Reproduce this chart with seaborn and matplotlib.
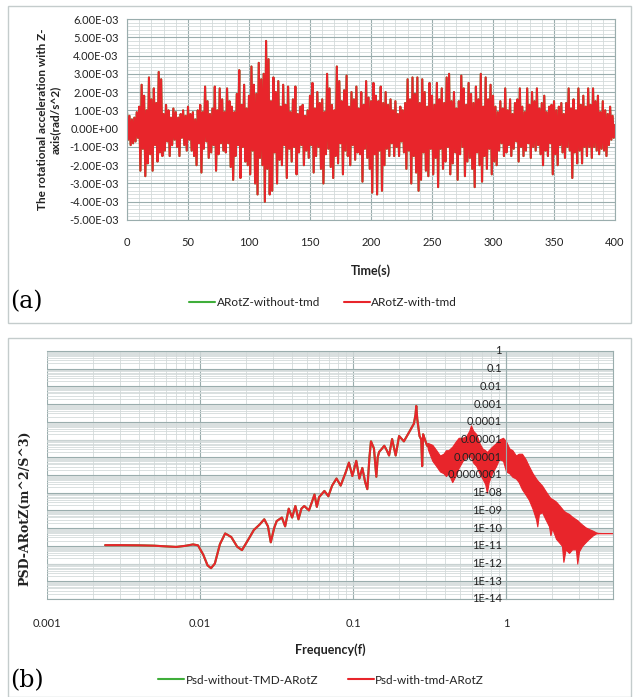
import numpy as np
import pandas as pd
import seaborn as sns
import matplotlib.pyplot as plt
from matplotlib.ticker import MultipleLocator, LogLocator, FixedLocator, FixedFormatter, NullFormatter
from matplotlib.patches import Rectangle

# ---- data -------------------------------------------------------------
# (a) rotational acceleration about Z, read every 1 s (units of 1E-03 rad/s^2)
arotz_with = [
    0.9, -0.6, 0.7, -0.9, 0.5, -0.8, 0.6, -0.7, 0.9, -0.5,
    1.2, -2.3, 2.4, -1.1, 1.8, -2.6, 1.0, -1.9, 2.8, -1.4,
    1.6, -2.3, 2.2, -0.9, 1.4, -1.8, 3.1, -1.3, 2.7, -1.5,
    0.8, -1.2, 1.3, -0.7, 1.0, -1.5, 0.6, -0.9, 1.1, -0.6,
    0.9, -1.0, 0.6, -1.5, 0.8, -0.5, 1.0, -0.9, 0.7, -1.2,
    1.2, -0.6, 0.8, -1.2, 0.9, -1.5, 0.5, -2.0, 1.0, -0.8,
    1.3, -2.4, 0.9, -1.1, 2.3, -0.7, 1.5, -1.6, 0.8, -1.3,
    1.1, -0.9, 2.3, -2.3, 1.0, -1.4, 2.2, -0.8, 1.6, -1.2,
    0.9, -1.3, 2.2, -0.8, 1.5, -2.1, 1.2, -2.8, 0.9, -1.5,
    1.9, -0.9, 3.2, -2.7, 1.3, -1.0, 2.4, -1.8, 1.1, -2.0,
    1.8, -2.5, 3.4, -1.2, 2.4, -3.0, 1.9, -3.6, 3.6, -1.6,
    2.7, -2.0, 3.0, -4.0, 4.8, -2.2, 3.8, -3.6, 1.5, -3.4,
    2.8, -1.3, 2.0, -3.0, 2.6, -1.7, 1.2, -2.0, 2.4, -0.9,
    1.3, -2.7, 2.3, -1.1, 0.9, -1.8, 1.6, -1.0, 2.3, -2.5,
    0.8, -1.3, 1.2, -0.9, 1.3, -2.0, 0.7, -1.2, 1.0, -1.6,
    1.8, -0.9, 2.5, -2.4, 1.1, -1.5, 2.0, -1.0, 1.4, -2.2,
    1.6, -3.0, 0.9, -1.4, 3.0, -1.1, 2.2, -2.1, 1.3, -2.7,
    1.0, -1.5, 3.4, -1.9, 2.6, -0.8, 1.5, -2.5, 2.1, -1.2,
    2.9, -1.5, 1.2, -2.0, 2.0, -0.9, 1.6, -1.7, 2.3, -1.3,
    1.1, -1.4, 2.0, -2.9, 1.3, -1.1, 2.6, -1.6, 1.7, -2.2,
    1.5, -3.5, 2.5, -1.4, 1.8, -3.6, 1.5, -1.2, 2.3, -3.4,
    1.4, -2.0, 2.0, -1.1, 1.3, -1.5, 1.6, -0.8, 1.0, -1.5,
    1.5, -1.0, 0.8, -1.5, 1.2, -0.7, 1.0, -1.3, 1.4, -2.2,
    2.7, -1.2, 1.6, -3.0, 2.8, -1.5, 1.9, -2.4, 2.8, -3.4,
    1.4, -2.8, 2.7, -1.3, 2.0, -2.3, 1.2, -2.6, 2.5, -1.1,
    1.8, -2.5, 1.3, -1.6, 2.5, -3.2, 1.6, -1.1, 2.2, -2.2,
    1.4, -1.8, 2.8, -1.0, 3.0, -2.5, 1.5, -1.9, 2.0, -1.3,
    1.1, -2.8, 1.5, -1.4, 2.9, -1.0, 2.2, -2.6, 1.3, -1.8,
    2.5, -1.6, 1.9, -2.2, 1.4, -3.2, 2.3, -1.3, 1.6, -2.0,
    3.0, -2.9, 1.2, -1.5, 2.8, -2.2, 1.6, -1.1, 2.4, -2.5,
    1.8, -1.8, 1.2, -2.0, 0.9, -1.2, 1.5, -0.8, 1.1, -1.5,
    2.2, -1.3, 1.0, -0.9, 1.6, -1.5, 0.8, -1.1, 1.4, -0.7,
    1.6, -1.8, 2.2, -1.0, 1.2, -1.5, 0.9, -1.2, 2.2, -0.8,
    1.3, -1.6, 2.0, -1.0, 1.5, -1.2, 2.2, -0.9, 1.1, -1.4,
    1.4, -2.0, 1.8, -1.2, 0.9, -1.5, 1.2, -0.8, 1.3, -2.5,
    1.5, -1.4, 1.0, -2.0, 1.2, -0.9, 1.4, -1.3, 0.8, -1.6,
    1.4, -1.0, 2.2, -1.2, 1.1, -2.7, 1.6, -1.3, 1.0, -1.9,
    2.2, -1.2, 1.3, -1.9, 1.8, -1.0, 1.2, -1.5, 2.2, -1.0,
    1.3, -1.6, 2.2, -1.0, 1.5, -1.2, 1.8, -1.4, 0.9, -1.1,
    1.5, -1.2, 1.0, -1.5, 0.8, -0.9, 1.2, -0.6, 0.7, -0.5,
    0.2,
]
arotz_without = list(arotz_with)  # curves coincide in the figure
time_s = np.arange(len(arotz_with))

# (b) PSD, log10 values
psd_freq = [0.0024, 0.003, 0.004, 0.005, 0.006, 0.007, 0.008, 0.009, 0.0097,
            0.0105, 0.0112, 0.0118, 0.0125, 0.0135, 0.0146, 0.016, 0.0175,
            0.0188, 0.0205, 0.0225, 0.0245, 0.0263, 0.0278, 0.029, 0.0305,
            0.0317, 0.0343, 0.036, 0.038, 0.040, 0.042, 0.044, 0.046, 0.048,
            0.0515, 0.054, 0.056, 0.058, 0.06, 0.065, 0.069, 0.073, 0.078,
            0.083, 0.09, 0.094, 0.099, 0.105, 0.11, 0.115, 0.12, 0.124,
            0.128, 0.131, 0.137, 0.142, 0.145, 0.148, 0.155, 0.16, 0.166,
            0.172, 0.18, 0.19, 0.20, 0.215, 0.232, 0.25, 0.256, 0.259,
            0.263, 0.272, 0.279, 0.283, 0.287, 0.295, 0.305]
psd_log_with = [-10.96, -10.96, -10.97, -10.99, -11.03, -11.06, -11.0, -10.92, -10.97,
                -11.5, -12.1, -12.26, -12.0, -10.9, -10.3, -10.5, -11.05,
                -11.24, -10.7, -10.1, -9.8, -9.5, -9.9, -10.8, -10.0,
                -9.6, -9.4, -9.9, -8.9, -9.4, -8.75, -9.5, -8.9, -8.75,
                -9.0, -8.5, -8.1, -8.8, -8.25, -7.9, -8.2, -7.6, -7.2,
                -7.6, -6.8, -6.3, -7.06, -6.2, -7.2, -6.6, -7.4, -7.8,
                -6.0, -5.1, -5.5, -7.1, -6.0, -5.7, -5.5, -5.35, -5.6,
                -5.9, -4.97, -5.9, -4.8, -5.1, -4.6, -4.1, -3.6, -3.1,
                -3.85, -4.8, -5.0, -6.5, -4.7, -5.0, -5.35]
psd_log_without = list(psd_log_with)

# dense, noisy part of the spectrum: upper / lower envelope (log10)
band_freq = [0.305, 0.31, 0.33, 0.35, 0.37, 0.39, 0.405, 0.42, 0.445, 0.47, 0.49,
             0.52, 0.55, 0.575, 0.59, 0.61, 0.64, 0.67, 0.70, 0.73, 0.75,
             0.77, 0.81, 0.86, 0.90, 0.956, 1.0, 1.05, 1.1, 1.16, 1.21,
             1.27, 1.34, 1.41, 1.49, 1.57, 1.6, 1.64, 1.72, 1.81, 1.91,
             1.95, 2.0, 2.12, 2.22, 2.32, 2.37, 2.45, 2.58, 2.7, 2.86,
             2.92, 3.0, 3.14, 3.3, 3.48, 3.7, 3.87, 4.0, 4.3, 5.0]
band_hi = [-5.2, -5.2, -5.3, -5.6, -5.9, -5.8, -5.6, -5.6, -5.4, -5.1, -4.9,
           -4.9, -4.8, -4.5, -4.2, -4.5, -4.7, -5.2, -5.5, -5.6, -5.7,
           -5.6, -5.4, -5.2, -5.0, -4.9, -5.1, -5.5, -5.6, -5.9, -5.8,
           -5.8, -6.1, -6.5, -6.9, -7.2, -7.3, -7.4, -7.6, -7.9, -8.2,
           -8.3, -8.35, -8.5, -8.7, -8.9, -9.0, -9.1, -9.2, -9.35, -9.5,
           -9.55, -9.65, -9.8, -9.95, -10.05, -10.15, -10.24, -10.27, -10.28, -10.28]
band_lo = [-5.35, -5.6, -6.2, -6.5, -6.8, -6.9, -7.06, -6.9, -7.4, -7.0, -6.6,
           -6.2, -6.0, -5.9, -6.0, -6.3, -6.5, -6.9, -7.2, -7.5, -8.0,
           -7.4, -6.9, -6.5, -6.1, -6.2, -6.8, -6.9, -7.1, -7.2, -7.4,
           -7.8, -8.1, -8.4, -8.9, -9.5, -9.9, -9.2, -9.1, -9.5, -9.9,
           -10.4, -10.0, -10.6, -10.8, -11.0, -11.9, -11.2, -11.4, -11.2, -11.2,
           -12.0, -11.3, -11.0, -10.8, -10.6, -10.4, -10.3, -10.29, -10.28, -10.28]

ytick_values_b = [10.0 ** -k for k in range(15)]
ytick_labels_b = ["1", "0.1", "0.01", "0.001", "0.0001", "0.00001", "0.000001",
                  "0.0000001", "1E-08", "1E-09", "1E-10", "1E-11", "1E-12",
                  "1E-13", "1E-14"]

# ---- style ------------------------------------------------------------
sns.set_theme(style="white")
plt.rcParams["font.family"] = ["Lato", "DejaVu Sans"]

RED = "#E8252B"
GREEN = "#3FAE3A"
MAJOR = "#9AADAD"
MINOR = "#D3DADA"
TXT = "#222222"

fig = plt.figure(figsize=(6.34, 6.97), dpi=100)

# panel frames
for y0, h in [(1 - 323 / 697, 317 / 697), (0.0, 1 - 338 / 697)]:
    fig.patches.append(Rectangle((8 / 634, y0), 623 / 634, h, transform=fig.transFigure,
                                 fill=False, edgecolor="#C4CCCC", lw=1.0))

# ---- (a) time history --------------------------------------------------
ax1 = fig.add_axes([127 / 634, 1 - 220 / 697, 488 / 634, 201 / 697])
df_a = pd.DataFrame({"t": time_s,
                     "without": np.array(arotz_without) * 1e-3,
                     "with": np.array(arotz_with) * 1e-3})
sns.lineplot(data=df_a, x="t", y="without", ax=ax1, color=GREEN, lw=1.0,
             label="ARotZ-without-tmd")
sns.lineplot(data=df_a, x="t", y="with", ax=ax1, color=RED, lw=1.0,
             label="ARotZ-with-tmd")
ax1.set_xlim(0, 400)
ax1.set_ylim(-5e-3, 6e-3)
ax1.xaxis.set_major_locator(MultipleLocator(50))
ax1.xaxis.set_minor_locator(MultipleLocator(10))
ax1.yaxis.set_minor_locator(MultipleLocator(2e-4))
yt = np.arange(-5, 7) * 1e-3
ax1.set_yticks(yt)
ax1.set_yticklabels([f"{v:.2E}" for v in yt])
ax1.grid(which="major", color=MAJOR, lw=0.8)
ax1.grid(which="minor", color=MINOR, lw=0.6)
ax1.set_axisbelow(True)
ax1.tick_params(which="both", length=0, labelsize=8, colors=TXT)
ax1.tick_params(axis="y", pad=6)
ax1.tick_params(axis="x", pad=12)
for s in ax1.spines.values():
    s.set_color(MAJOR)
    s.set_linewidth(0.8)
ax1.set_xlabel("Time(s)", fontsize=9, fontweight="bold", color=TXT, labelpad=12)
ax1.set_ylabel("The rotational acceleration with Z-\naxis(rad/s^2)", fontsize=8.5,
               fontweight="bold", color=TXT, labelpad=6)
ax1.get_legend().remove()
h1, l1 = ax1.get_legend_handles_labels()
for h in h1:
    h.set_linewidth(1.5)
fig.legend(h1, l1, loc="center", bbox_to_anchor=(323 / 634, 1 - 303 / 697), ncol=2,
           frameon=False, fontsize=8.5, handlelength=2.2, handletextpad=0.1,
           columnspacing=2.0, labelcolor=TXT)
fig.text(10 / 634, 1 - 302 / 697, "(a)", fontsize=17, family="DejaVu Serif",
         va="center", ha="left", color="black")

# ---- (b) PSD -----------------------------------------------------------
ax2 = fig.add_axes([47 / 634, 1 - 599 / 697, 566 / 634, 248 / 697])
df_b = pd.DataFrame({"f": psd_freq,
                     "without": 10.0 ** np.array(psd_log_without),
                     "with": 10.0 ** np.array(psd_log_with)})
sns.lineplot(data=df_b, x="f", y="without", ax=ax2, color=GREEN, lw=2.0,
             sort=False, estimator=None, label="Psd-without-TMD-ARotZ")
sns.lineplot(data=df_b, x="f", y="with", ax=ax2, color=RED, lw=1.7,
             sort=False, estimator=None, label="Psd-with-tmd-ARotZ")
ax2.fill_between(band_freq, 10.0 ** np.array(band_lo), 10.0 ** np.array(band_hi),
                 color=RED, lw=0.8, edgecolor=RED)
ax2.set_xscale("log")
ax2.set_yscale("log")
ax2.set_xlim(0.001, 5)
ax2.set_ylim(1e-14, 1)
ax2.xaxis.set_major_locator(FixedLocator([0.001, 0.01, 0.1, 1]))
ax2.xaxis.set_major_formatter(FixedFormatter(["0.001", "0.01", "0.1", "1"]))
ax2.xaxis.set_minor_locator(LogLocator(base=10, subs=np.arange(2, 10), numticks=50))
ax2.xaxis.set_minor_formatter(NullFormatter())
ax2.yaxis.set_major_locator(FixedLocator(ytick_values_b))
ax2.yaxis.set_major_formatter(NullFormatter())
ax2.yaxis.set_minor_locator(LogLocator(base=10, subs=np.arange(2, 10), numticks=100))
ax2.yaxis.set_minor_formatter(NullFormatter())
ax2.grid(which="major", color=MAJOR, lw=0.8)
ax2.grid(which="minor", color=MINOR, lw=0.6)
ax2.set_axisbelow(True)
ax2.spines["left"].set_position(("data", 1))
for s in ax2.spines.values():
    s.set_color(MAJOR)
    s.set_linewidth(0.8)
ax2.tick_params(which="both", length=0, labelsize=8, colors=TXT)
ax2.tick_params(axis="x", pad=14)
# y labels sit where the vertical axis crosses f = 1, drawn over the curves
for v, lab in zip(ytick_values_b, ytick_labels_b):
    ax2.annotate(lab, xy=(1, v), xytext=(-3, 0), textcoords="offset points",
                 ha="right", va="center", fontsize=8, color=TXT, zorder=6,
                 annotation_clip=False)
ax2.set_xlabel("Frequency(f)", fontsize=9, fontweight="bold", color=TXT, labelpad=10)
ax2.set_ylabel("")
fig.text(25 / 634, 1 - 508 / 697, "PSD-ARotZ(m^2/S^3)", rotation=90, fontsize=9,
         family="DejaVu Serif", fontweight="bold", va="center", ha="center", color=TXT)
ax2.get_legend().remove()
h2, l2 = ax2.get_legend_handles_labels()
for h in h2:
    h.set_linewidth(1.5)
fig.legend(h2, l2, loc="center", bbox_to_anchor=(321 / 634, 1 - 680 / 697), ncol=2,
           frameon=False, fontsize=8.5, handlelength=2.2, handletextpad=0.1,
           columnspacing=2.5, labelcolor=TXT)
fig.text(10 / 634, 1 - 681 / 697, "(b)", fontsize=17, family="DejaVu Serif",
         va="center", ha="left", color="black")

fig.savefig("out.png", dpi=100)
